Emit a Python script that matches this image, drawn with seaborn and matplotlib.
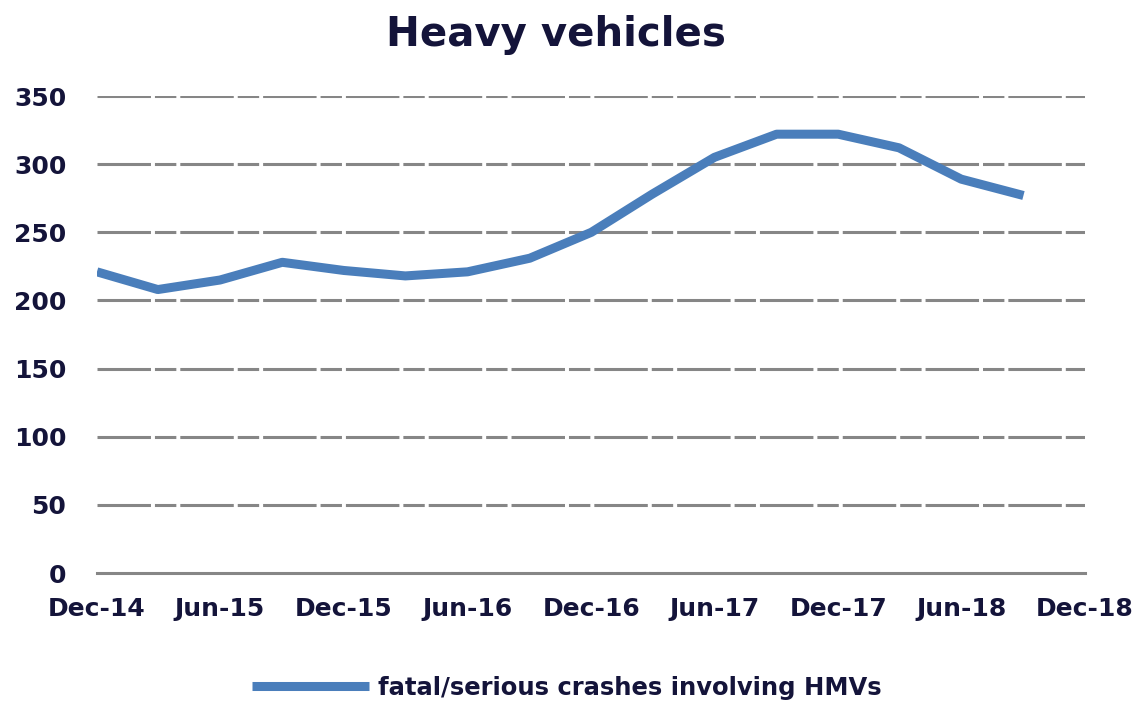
import pandas as pd
import matplotlib
matplotlib.use("Agg")
import matplotlib.pyplot as plt
import seaborn as sns

# quarterly values
quarters = ["Dec-14", "Mar-15", "Jun-15", "Sep-15", "Dec-15", "Mar-16", "Jun-16", "Sep-16",
            "Dec-16", "Mar-17", "Jun-17", "Sep-17", "Dec-17", "Mar-18", "Jun-18", "Sep-18"]
crashes = [221, 208, 215, 228, 222, 218, 221, 231, 250, 278, 305, 322, 322, 312, 289, 277]
tick_labels = ["Dec-14", "Jun-15", "Dec-15", "Jun-16", "Dec-16", "Jun-17", "Dec-17", "Jun-18", "Dec-18"]
y_ticks = [0, 50, 100, 150, 200, 250, 300, 350]
series_name = "fatal/serious crashes involving HMVs"

df = pd.DataFrame({
    "date": pd.to_datetime(quarters, format="%b-%y"),
    "value": crashes,
})

sns.set_theme(style="white")
plt.rcParams["font.family"] = ["DejaVu Sans"]
text_col = "#14143a"
line_col = "#4a7ebb"
grid_col = "#868686"

fig = plt.figure(figsize=(11.34, 7.03), dpi=100)
ax = fig.add_axes([0.0855, 0.1849, 0.8713, 0.6785])

for v in y_ticks[1:]:
    ax.axhline(v, color=grid_col, lw=2.2, dashes=(17.5, 1.3, 7, 1.3), zorder=1)

sns.lineplot(data=df, x="date", y="value", ax=ax, color=line_col, lw=6.5,
             label=series_name, zorder=3, solid_capstyle="butt")

tick_dates = pd.to_datetime(tick_labels, format="%b-%y")
ax.set_xlim(tick_dates[0], tick_dates[-1])
ax.set_ylim(0, 350)
ax.set_xticks(tick_dates)
ax.set_xticklabels(tick_labels)
ax.set_yticks(y_ticks)
ax.set_xlabel("")
ax.set_ylabel("")

for s in ["top", "right", "left"]:
    ax.spines[s].set_visible(False)
ax.spines["bottom"].set_color(grid_col)
ax.spines["bottom"].set_linewidth(2.2)
ax.spines["bottom"].set_zorder(1)

ax.tick_params(axis="both", length=0, labelsize=18, colors=text_col)
ax.tick_params(axis="y", pad=22)
ax.tick_params(axis="x", pad=17)
for lab in ax.get_xticklabels() + ax.get_yticklabels():
    lab.set_fontweight("bold")

fig.suptitle("Heavy vehicles", x=0.49, y=0.978, fontsize=29, fontweight="bold", color=text_col)

ax.legend_.remove()
handles, labels = ax.get_legend_handles_labels()
leg = fig.legend(handles, labels, loc="center", bbox_to_anchor=(0.5, 0.022), frameon=False,
                 handlelength=4.8, handletextpad=0.4, prop={"size": 17.5, "weight": "bold"})
for t in leg.get_texts():
    t.set_color(text_col)

fig.savefig("out.png", dpi=100)
